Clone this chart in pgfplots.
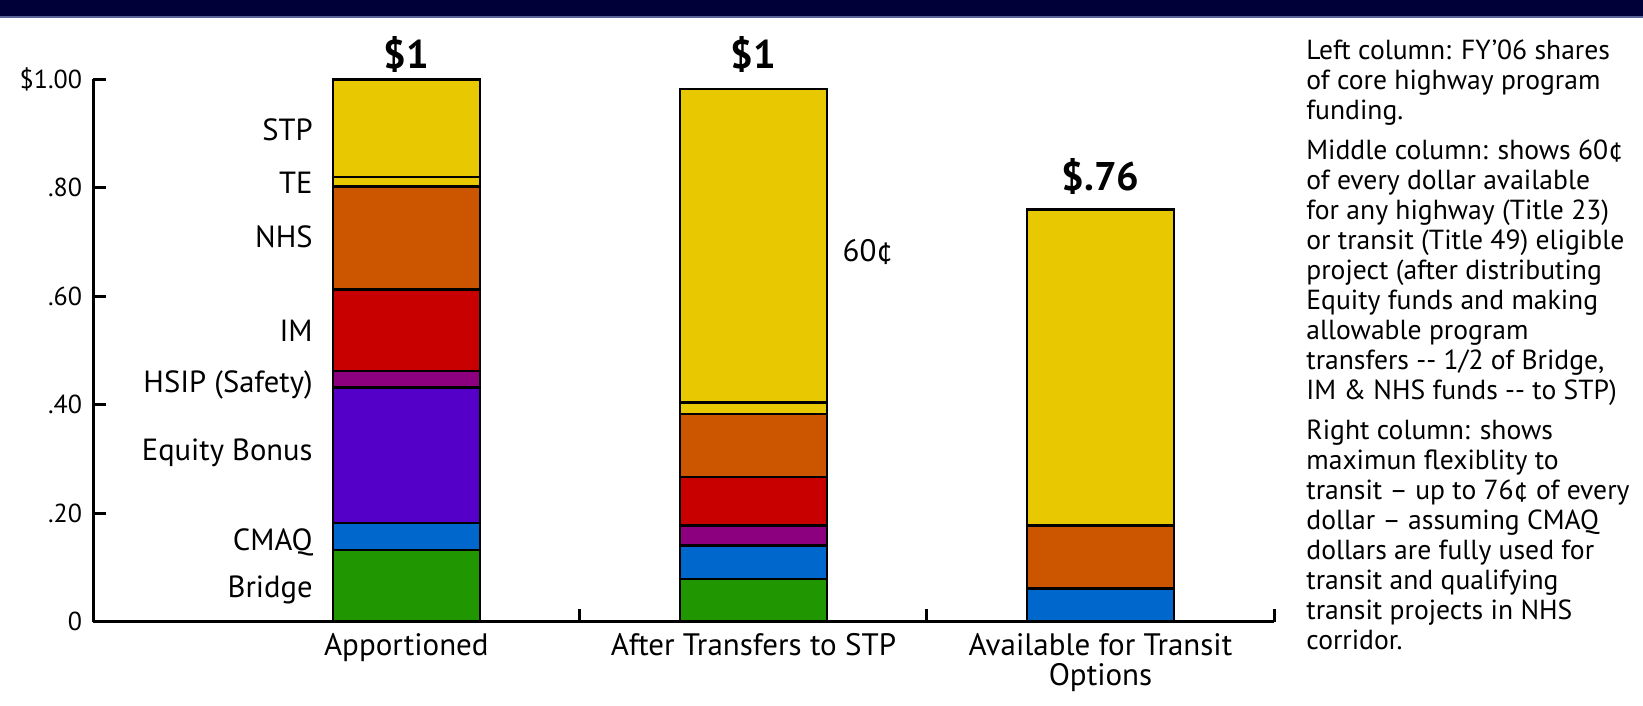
\documentclass[border=0pt]{standalone}
\usepackage{fontspec}
\setmainfont{PT Sans}
\usepackage{pgfplots}
\pgfplotsset{compat=1.18}

\definecolor{navyband}{RGB}{0,0,56}
\definecolor{bandedge}{RGB}{90,100,150}
\definecolor{cstp}{RGB}{232,200,0}
\definecolor{cnhs}{RGB}{204,85,0}
\definecolor{cim}{RGB}{200,0,0}
\definecolor{chsip}{RGB}{140,0,128}
\definecolor{cequity}{RGB}{84,0,200}
\definecolor{ccmaq}{RGB}{0,104,204}
\definecolor{cbridge}{RGB}{32,150,0}

\newcommand\sidefont{\fontsize{13.8}{15}\selectfont}
\newcommand\sideline[2]{\node[anchor=base west, inner sep=0pt, font=\sidefont] at (653pt,#1pt) {#2};}

\tikzset{
  seglabel/.style={anchor=base east, inner sep=0pt, font=\fontsize{15.3}{18}\selectfont},
  totlabel/.style={font=\bfseries\fontsize{20}{24}\selectfont},
}

\begin{document}
\begin{tikzpicture}
% page background and the dark band along the top edge
\fill[white] (0,0) rectangle (821.5pt,353pt);
\fill[navyband] (0,344.5pt) rectangle (821.5pt,353pt);
\draw[bandedge, line width=1pt] (0,344.3pt) -- (821.5pt,344.3pt);

\begin{axis}[
  at={(46.5pt,42.15pt)}, anchor=south west,
  scale only axis, width=590.5pt, height=271.2pt,
  xmin=-0.903, xmax=2.5, ymin=0, ymax=1,
  clip=false,
  axis x line*=bottom, axis y line*=left,
  axis line style={line width=1.5pt, black},
  ybar stacked, bar width=73.5pt,
  xtick={0.5,1.5,2.5}, xticklabels={,,},
  extra x ticks={0,1,2},
  extra x tick labels={Apportioned,After Transfers to STP,{Available for Transit\\Options}},
  extra x tick style={major tick length=0pt,
    xticklabel style={align=center, yshift=-2.5pt,
      font=\fontsize{15.5}{15}\selectfont}},
  ytick={0,0.2,0.4,0.6,0.8,1},
  yticklabels={0,.20,.40,.60,.80,\$1.00},
  yticklabel style={font=\fontsize{13}{15}\selectfont, xshift=-2pt},
  tick align=inside, major tick length=6.5pt,
  tick style={line width=1.5pt, black},
]
% shares of one highway-program dollar, stacked from the bottom
\addplot[fill=cbridge, draw=black, line width=1.3pt] coordinates {(0,0.132) (1,0.079) (2,0)};
\addplot[fill=ccmaq, draw=black, line width=1.3pt]   coordinates {(0,0.050) (1,0.061) (2,0.0615)};
\addplot[fill=cequity, draw=black, line width=1.3pt] coordinates {(0,0.250) (1,0)     (2,0)};
\addplot[fill=chsip, draw=black, line width=1.3pt]   coordinates {(0,0.030) (1,0.037) (2,0)};
\addplot[fill=cim, draw=black, line width=1.3pt]     coordinates {(0,0.150) (1,0.090) (2,0)};
\addplot[fill=cnhs, draw=black, line width=1.3pt]    coordinates {(0,0.190) (1,0.116) (2,0.1155)};
\addplot[fill=cstp, draw=black, line width=1.3pt]    coordinates {(0,0.018) (1,0.021) (2,0)};
\addplot[fill=cstp, draw=black, line width=1.3pt]    coordinates {(0,0.180) (1,0.578) (2,0.583)};

% column totals
\node[totlabel] at (axis cs:0,1.046) {\$1};
\node[totlabel] at (axis cs:1,1.046) {\$1};
\node[totlabel] at (axis cs:2,0.820) {\$.76};

\node[font=\fontsize{15.5}{18}\selectfont] at (axis cs:1.33,0.682) {60¢};

% program names beside the left column
\node[seglabel] at (axis cs:-0.269,0.888) {STP};
\node[seglabel] at (axis cs:-0.269,0.790) {TE};
\node[seglabel] at (axis cs:-0.269,0.690) {NHS};
\node[seglabel] at (axis cs:-0.269,0.516) {IM};
\node[seglabel] at (axis cs:-0.269,0.423) {HSIP (Safety)};
\node[seglabel] at (axis cs:-0.269,0.297) {Equity Bonus};
\node[seglabel] at (axis cs:-0.269,0.131) {CMAQ};
\node[seglabel] at (axis cs:-0.269,0.045) {Bridge};
\end{axis}

% notes on the right
\sideline{323.15}{Left column: FY’06 shares}
\sideline{308.15}{of core highway program}
\sideline{293.15}{funding.}
\sideline{273.15}{Middle column: shows 60¢}
\sideline{258.15}{of every dollar available}
\sideline{243.15}{for any highway (Title 23)}
\sideline{228.15}{or transit (Title 49) eligible}
\sideline{213.15}{project (after distributing}
\sideline{198.15}{Equity funds and making}
\sideline{183.15}{allowable program}
\sideline{168.15}{transfers -{}- 1/2 of Bridge,}
\sideline{153.15}{IM \& NHS funds -{}- to STP)}
\sideline{133.15}{Right column: shows}
\sideline{118.15}{maximun flexiblity to}
\sideline{103.15}{transit – up to 76¢ of every}
\sideline{88.15}{dollar – assuming CMAQ}
\sideline{73.15}{dollars are fully used for}
\sideline{58.15}{transit and qualifying}
\sideline{43.15}{transit projects in NHS}
\sideline{28.15}{corridor.}

\pgfresetboundingbox
\path (0,0) rectangle (821.5pt,353pt);
\end{tikzpicture}
\end{document}
